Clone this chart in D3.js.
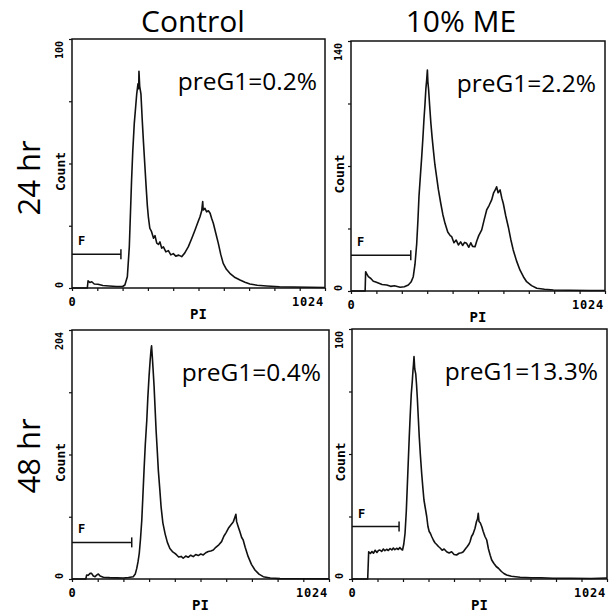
<!DOCTYPE html>
<html>
<head>
<meta charset="utf-8">
<script src="https://cdn.jsdelivr.net/npm/d3@7"></script>
<style>
  body { margin: 0; background: #fff; }
  svg { display: block; }
</style>
</head>
<body>
<div id="chart"></div>
<script>
// column / row headings
var columns = ["Control", "10% ME"];
var rows = ["24 hr", "48 hr"];

// per panel: 24h control, 24h ME, 48h control, 48h ME
var yMax = [100, 140, 204, 100];
var preG1 = ["preG1=0.2%", "preG1=2.2%", "preG1=0.4%", "preG1=13.3%"];
var gateEnd = [198, 241, 238, 189];
var gateLevel = [13.6, 20, 30, 21];

// PI histograms, [channel, count]
var hist24Control = [[0,0],[62,0],[65,2.9],[72,2.2],[80,2.5],[90,1.6],[105,1.5],[125,1.0],[150,0.8],[180,0.6],[205,0.6],[214,1.2],[224,4.5],[232,16.6],[241,43],[246,55],[252,66],[257,72],[262,78],[267,82],[270,80],[271,87],[274,81],[279,78],[284,68],[289,59],[295,49],[300,40.7],[305,33],[309,28.6],[315,24],[322,22.6],[330,20],[336,21],[343,18],[350,17.5],[356,18.5],[363,16],[370,16.5],[380,14.5],[390,15],[400,13.3],[410,13.8],[420,12.8],[432,13.2],[444,12.6],[456,14],[471,16.6],[485,20],[498,23.3],[508,26],[518,28.6],[525,31],[529,34.7],[531,31.3],[538,32],[545,30.6],[552,31],[559,30],[565,28],[572,26],[582,22],[592,18],[602,13.5],[612,9.9],[625,7.5],[639,5.9],[660,4.2],[680,3.2],[700,2.3],[720,1.6],[750,1.1],[788,0.8],[840,0.5],[895,0.4],[960,0.3],[1024,0.2]];

var hist24ME = [[0,0],[57,0],[59,10.8],[64,9.5],[70,8],[80,7],[90,5.5],[97,5.2],[110,4.5],[125,3.6],[144,3.4],[160,2.6],[175,2.9],[198,2.1],[215,2.4],[231,3.4],[242,5],[251,8],[258,15],[265,26.7],[270,40],[274,52.8],[280,65],[285,75],[290,86],[294,95.8],[298,104],[302,113.5],[305,118],[308,123.8],[310,117],[313,112.6],[317,104],[322,94],[327,86],[332,79],[338,71],[345,64],[352,57],[362,49],[370,43],[379,37.9],[390,33],[400,31],[406,30.4],[415,27],[424,28.5],[433,25.8],[442,27.5],[450,25.5],[458,27.2],[466,26.7],[475,24.5],[483,27],[490,25],[500,24.8],[507,28],[515,31],[527,34.2],[537,40],[547,45.4],[557,48],[567,51],[575,55],[583,57],[587,58.4],[593,55],[601,56.6],[608,52],[614,49],[624,42],[634,36],[644,29],[654,23],[667,17],[681,11.8],[695,8],[708,5.2],[728,3],[749,1.5],[780,1.0],[816,0.6],[880,0.4],[960,0.3],[1024,0.3]];

var hist48Control = [[0,0],[55,0],[58.5,3.3],[65,3],[72,4.6],[78,4.6],[85,2.5],[92,1.9],[98,3.2],[105,4.1],[112,2.4],[125,1.4],[150,1.1],[180,0.9],[204,0.8],[225,1.2],[244,1.9],[252,4],[258,8.7],[263,14],[268,21],[273,33],[278,48],[282,66],[287,89],[292,110],[298,130],[302,148],[307,166],[311,178],[315,188],[317,191],[320,182],[323,172],[327,158],[331,140],[335,122],[340,104],[344,89],[350,73],[355,59],[362,46],[371,37],[380,30],[390,25],[400,22.5],[410,21],[417,19.7],[425,18],[435,18.5],[443,17],[453,18.8],[463,17.8],[473,19.5],[483,18.3],[493,20],[503,19.2],[513,20.5],[523,19.7],[533,21.5],[543,22.5],[553,23],[563,23.8],[573,26],[585,28],[596,30.6],[605,35],[614,38],[623,41.5],[632,44],[640,46],[643,47],[648,50],[653,53],[656,47],[662,43],[670,38],[676,34],[682,32],[690,26],[702,18.3],[715,12],[729,7.4],[745,4],[762,1.9],[790,0.8],[829,0.3],[900,0.2],[1024,0.1]];

var hist48ME = [[0,0],[63,0],[67,10.9],[74,10.2],[80,11],[86,10.3],[93,11.5],[100,10.6],[106,11.4],[112,11.6],[119,11],[126,12],[132,11.3],[139,11.9],[146,11.4],[153,12.2],[160,11.6],[166,12.4],[172,11.7],[179,12.3],[186,11.8],[192,12.6],[198,11.9],[203,11.6],[208,14],[213,18.3],[218,27],[222,37],[226,47],[230,57],[234,66],[238,74],[242,79],[245,83.6],[247,86],[249,89],[252,84],[256,82],[259,78],[262,73],[266,65],[270,57],[275,49],[280,42],[285,36],[289,31.6],[295,28],[300,25],[305,21],[310,19],[315,18.2],[320,17],[327,15.5],[333,14.5],[340,13.8],[347,13],[354,12.4],[362,11.5],[370,12],[380,10.9],[390,10.4],[400,10.9],[410,9.8],[420,9.6],[430,10.3],[440,10.5],[447,10.9],[455,12],[463,13],[470,14],[474,14.9],[480,17],[486,18],[494,20.3],[500,23],[504,24],[507,26.3],[510,23],[515,22.5],[521,21],[527,19],[534,17],[541,15.6],[548,12],[555,9.5],[561,7.6],[570,6.2],[579,5],[588,4.3],[600,3],[610,2.2],[621,1.6],[640,1.1],[675,0.7],[720,0.5],[760,0.5],[807,0.3],[880,0.3],[960,0.2],[1024,0.4]];

var hists = [hist24Control, hist24ME, hist48Control, hist48ME];

var W = 612, H = 614;
var mono = "'DejaVu Sans Mono', monospace";
var sans = "'Open Sans', sans-serif";

// panel boxes in the picture (they are not all the same size)
var frames = [
  { l: 72,  r: 325, t: 39,  b: 288 },
  { l: 351, r: 605, t: 41,  b: 291 },
  { l: 72,  r: 329, t: 330, b: 579 },
  { l: 352, r: 607, t: 329, b: 579 }
];

var svg = d3.select("#chart").append("svg")
  .attr("width", W)
  .attr("height", H);

// column titles
svg.selectAll("text.col")
  .data(columns)
  .enter()
  .append("text")
  .attr("class", "col")
  .attr("x", function(d, i) { return [193, 461][i]; })
  .attr("y", 32)
  .attr("text-anchor", "middle")
  .style("font-family", sans)
  .style("font-size", "30px")
  .text(function(d) { return d; });

// row titles
svg.selectAll("text.row")
  .data(rows)
  .enter()
  .append("text")
  .attr("class", "row")
  .attr("transform", function(d, i) { return "translate(40," + [178, 456][i] + ") rotate(-90)"; })
  .attr("text-anchor", "middle")
  .style("font-family", sans)
  .style("font-size", "31px")
  .text(function(d) { return d; });

hists.forEach(function(data, i) {
  var f = frames[i];
  var x = d3.scaleLinear().domain([0, 1024]).range([f.l, f.r]);
  var y = d3.scaleLinear().domain([0, yMax[i]]).range([f.b, f.t]);
  var g = svg.append("g");

  // ticks
  g.append("g")
    .attr("transform", "translate(" + f.l + ",0)")
    .call(d3.axisLeft(y)
      .tickValues(d3.range(5).map(function(k) { return yMax[i] * k / 4; }))
      .tickSize(3).tickSizeOuter(0).tickFormat(""))
    .call(function(a) { a.select(".domain").remove(); });

  g.append("g")
    .attr("transform", "translate(0," + f.b + ")")
    .call(d3.axisBottom(x)
      .tickValues(d3.range(11).map(function(k) { return 102.4 * k; }))
      .tickSize(3).tickSizeOuter(0).tickFormat(""))
    .call(function(a) { a.select(".domain").remove(); });

  g.selectAll(".tick line").attr("stroke", "#111").attr("stroke-width", 1.2);

  // histogram trace
  var line = d3.line()
    .x(function(d) { return x(d[0]); })
    .y(function(d) { return y(d[1]); });

  g.append("path")
    .datum(data)
    .attr("d", line)
    .attr("fill", "none")
    .attr("stroke", "#111")
    .attr("stroke-width", 1.6)
    .attr("stroke-linejoin", "round");

  // frame
  g.append("rect")
    .attr("x", f.l).attr("y", f.t)
    .attr("width", f.r - f.l).attr("height", f.b - f.t)
    .attr("fill", "none")
    .attr("stroke", "#111")
    .attr("stroke-width", 1.5);

  // F gate marker
  var gy = y(gateLevel[i]);
  var gx = x(gateEnd[i]);
  g.append("line")
    .attr("x1", f.l).attr("x2", gx)
    .attr("y1", gy).attr("y2", gy)
    .attr("stroke", "#111").attr("stroke-width", 1.5);
  g.append("line")
    .attr("x1", gx).attr("x2", gx)
    .attr("y1", gy - 5).attr("y2", gy + 5)
    .attr("stroke", "#111").attr("stroke-width", 1.5);
  g.append("text")
    .attr("x", f.l + 6).attr("y", gy - 9)
    .style("font-family", mono).style("font-weight", "bold").style("font-size", "12px")
    .text("F");

  // preG1 annotation
  g.append("text")
    .attr("x", f.r - (i % 2 ? 9 : 8))
    .attr("y", f.t + 51)
    .attr("text-anchor", "end")
    .style("font-family", sans)
    .style("font-size", "24.5px")
    .text(preG1[i]);

  // x axis labels
  g.append("text")
    .attr("x", x(0)).attr("y", f.b + 18)
    .attr("text-anchor", "middle")
    .style("font-family", mono).style("font-weight", "bold").style("font-size", "12px")
    .text("0");
  g.append("text")
    .attr("x", x(1024) - 1).attr("y", f.b + 18)
    .attr("text-anchor", "end")
    .style("font-family", mono).style("font-weight", "bold").style("font-size", "12px")
    .style("letter-spacing", "0.8px")
    .text("1024");
  g.append("text")
    .attr("x", (f.l + f.r) / 2).attr("y", f.b + 31)
    .attr("text-anchor", "middle")
    .style("font-family", mono).style("font-weight", "bold").style("font-size", "14px")
    .text("PI");

  // y axis labels (rotated)
  g.append("text")
    .attr("transform", "translate(" + (f.l - 9) + "," + y(0) + ") rotate(-90)")
    .attr("text-anchor", "start")
    .style("font-family", mono).style("font-weight", "bold").style("font-size", "10px")
    .text("0");
  g.append("text")
    .attr("transform", "translate(" + (f.l - 9) + "," + (y(yMax[i]) + 2) + ") rotate(-90)")
    .attr("text-anchor", "end")
    .style("font-family", mono).style("font-weight", "bold").style("font-size", "10px")
    .text(yMax[i]);
  g.append("text")
    .attr("transform", "translate(" + (f.l - 7) + "," + ((f.t + f.b) / 2 + 8) + ") rotate(-90)")
    .attr("text-anchor", "middle")
    .style("font-family", mono).style("font-weight", "bold").style("font-size", "13px")
    .text("Count");
});
</script>
</body>
</html>
